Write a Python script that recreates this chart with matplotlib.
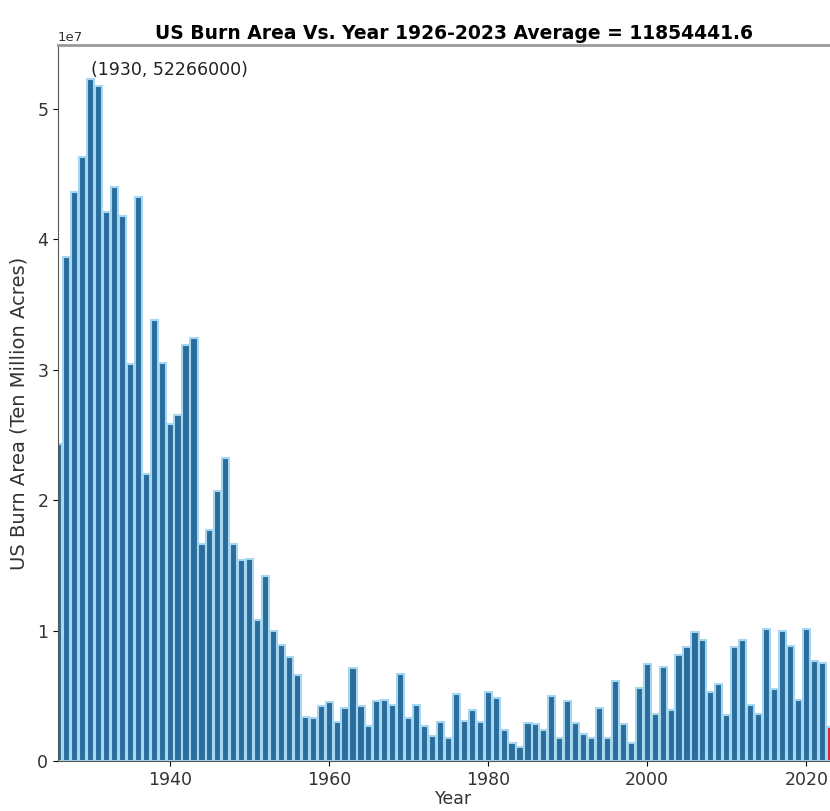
import numpy as np
import matplotlib
matplotlib.use("Agg")
import matplotlib.pyplot as plt

# yearly US burn area (acres)
years = list(range(1926, 2024))
areas_1e7 = [
    2.43, 3.86, 4.36, 4.63, 5.2266, 5.17, 4.21, 4.40, 4.18, 3.04,  # 1926-1935
    4.32, 2.20, 3.38, 3.05, 2.58, 2.65, 3.19, 3.24, 1.66, 1.77,    # 1936-1945
    2.07, 2.32, 1.66, 1.54, 1.55, 1.08, 1.42, 1.00, 0.89, 0.80,    # 1946-1955
    0.66, 0.34, 0.33, 0.42, 0.45, 0.30, 0.41, 0.71, 0.42, 0.27,    # 1956-1965
    0.46, 0.47, 0.43, 0.67, 0.33, 0.43, 0.27, 0.19, 0.30, 0.18,    # 1966-1975
    0.51, 0.31, 0.39, 0.30, 0.53, 0.48, 0.24, 0.14, 0.11, 0.29,    # 1976-1985
    0.28, 0.24, 0.50, 0.18, 0.46, 0.29, 0.21, 0.18, 0.41, 0.18,    # 1986-1995
    0.61, 0.28, 0.14, 0.56, 0.74, 0.36, 0.72, 0.39, 0.81, 0.87,    # 1996-2005
    0.99, 0.93, 0.53, 0.59, 0.35, 0.87, 0.93, 0.43, 0.36, 1.01,    # 2006-2015
    0.55, 1.00, 0.88, 0.47, 1.01, 0.77, 0.75, 0.26,                # 2016-2023
]
areas = np.array(areas_1e7) * 1e7
areas[years.index(1930)] = 52266000

peak_year = 1930
peak_val = 52266000
title = "US Burn Area Vs. Year 1926-2023 Average = 11854441.6"

W, H = 830, 811
fig = plt.figure(figsize=(W / 100, H / 100), dpi=100)
ax = fig.add_axes([58 / W, 1 - 761 / H, (850 - 58) / W, (761 - 45) / H])

colors = ["#2a6d9c"] * len(years)
colors[-1] = "#d62728"
ax.bar(years, areas, width=0.9, color=colors, edgecolor="#a6d6f0", linewidth=1.5)

ax.annotate("(%d, %d)" % (peak_year, peak_val), xy=(peak_year, peak_val),
            fontsize=12.5, va="bottom", ha="left", color="#222222")

ax.set_xlim(1925.9, 2025.5)
ax.set_ylim(0, peak_val * 1.05)
ax.set_title(title, fontsize=13.5, fontweight="bold", pad=4)
ax.set_xlabel("Year", fontsize=12.5, labelpad=1, color="#333333")
ax.set_ylabel("US Burn Area (Ten Million Acres)", fontsize=14, color="#333333")
ax.yaxis.set_label_coords(-0.037, 0.485)
ax.tick_params(labelsize=12.5, labelcolor="#333333")
ax.yaxis.get_offset_text().set_fontsize(9.5)
for s in ax.spines.values():
    s.set_color("#555555")
ax.spines["top"].set_color("#999999")
ax.spines["top"].set_linewidth(2)

fig.savefig("out.png", dpi=100)
